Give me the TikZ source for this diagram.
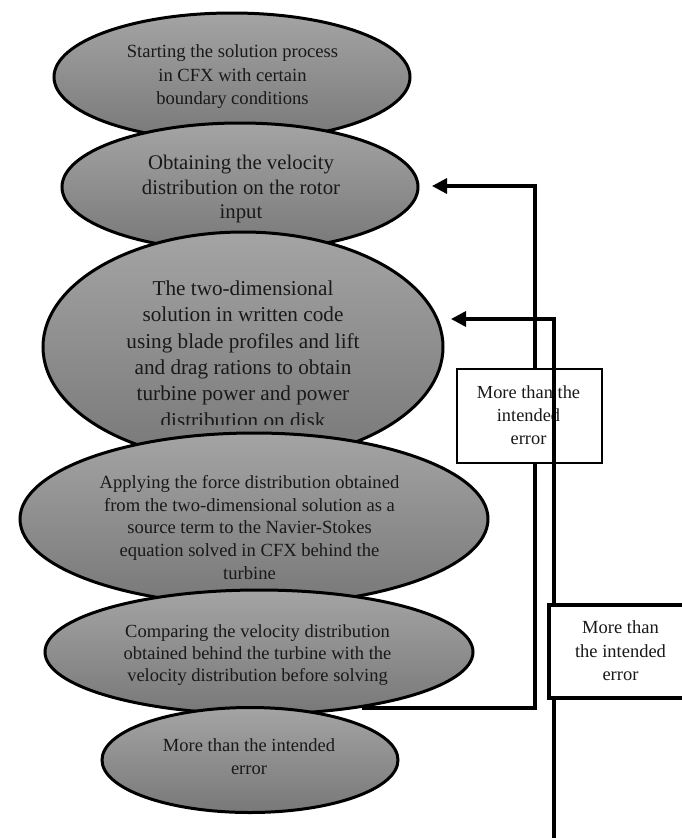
\documentclass[tikz,border=0pt]{standalone}
\usepackage{fontspec}
\setmainfont{Liberation Serif}
\usetikzlibrary{shapes.geometric,arrows.meta}
\definecolor{eTop}{RGB}{164,164,164}
\definecolor{eBot}{RGB}{120,120,120}
\tikzset{
  ell/.style={ellipse, draw=black, line width=3pt, top color=eTop, bottom color=eBot, inner sep=0pt},
  txt/.style={align=center, text=black!90, inner sep=0pt},
  errbox/.style={rectangle, draw=black, fill=white, inner sep=0pt},
  conn/.style={draw=black, line width=3.3pt},
  tip/.style={-{Triangle[length=15pt,width=15pt]}}
}
\begin{document}
\begin{tikzpicture}[x=1pt,y=-1pt]
\useasboundingbox (0,0) rectangle (682,838);

% ellipse 1
\node[ell, minimum width=356pt, minimum height=128pt] (e1) at (232,77) {};
\node[txt, font=\fontsize{18.6}{23.5}\selectfont] (t1) at (232.5,77) {Starting the solution process\\in CFX with certain\\boundary conditions};
% ellipse 2
\node[ell, minimum width=356pt, minimum height=128pt] (e2) at (240,187) {};
\node[txt, font=\fontsize{20.8}{24.3}\selectfont] (t2) at (241,189) {Obtaining the velocity\\distribution on the rotor\\input};
% ellipse 3
\node[ell, minimum width=400pt, minimum height=230pt] (e3) at (243,347) {};
\begin{scope}
\clip (0,0) rectangle (682,424);
\node[txt, font=\fontsize{21.2}{26.4}\selectfont] (t3) at (243,354) {The two-dimensional\\solution in written code\\using blade profiles and lift\\and drag rations to obtain\\turbine power and power\\distribution on disk};
\end{scope}
% ellipse 4
\node[ell, minimum width=468pt, minimum height=172pt] (e4) at (254,519) {};
\node[txt, font=\fontsize{18.6}{22.8}\selectfont] (t4) at (249.5,527.5) {Applying the force distribution obtained\\from the two-dimensional solution as a\\source term to the Navier-Stokes\\equation solved in CFX behind the\\turbine};
% ellipse 5
\node[ell, minimum width=428pt, minimum height=124pt] (e5) at (259,652) {};
\node[txt, font=\fontsize{18.5}{22}\selectfont] (t5) at (257.5,655) {Comparing the velocity distribution\\obtained behind the turbine with the\\velocity distribution before solving};
% ellipse 6
\node[ell, minimum width=296pt, minimum height=105pt] (e6) at (250,760) {};
\node[txt, font=\fontsize{18.5}{23}\selectfont] (t6) at (249,756.5) {More than the intended\\error};

% connector 1 (behind box 1)
\coordinate (s1) at (362,708);
\coordinate (k1) at (535,708);
\coordinate (a1) at (432,186);
\draw[conn, tip] (s1) -- (k1) |- (a1);

% box 1
\node[errbox, line width=2pt, minimum width=145pt, minimum height=94pt] (b1) at (529.5,416) {};
\node[txt, font=\fontsize{18.4}{23}\selectfont] (bt1) at (528.5,415) {More than the\\intended\\error};

% connector 2 (over box 1, under box 2)
\coordinate (s2) at (554,845);
\coordinate (a2) at (451,319);
\draw[conn, tip] (s2) |- (a2);

% box 2
\node[errbox, line width=4pt, minimum width=143pt, minimum height=93pt] (b2) at (620.5,651.5) {};
\node[txt, font=\fontsize{18.5}{23.5}\selectfont] (bt2) at (620.5,651) {More than\\the intended\\error};
\end{tikzpicture}
\end{document}
